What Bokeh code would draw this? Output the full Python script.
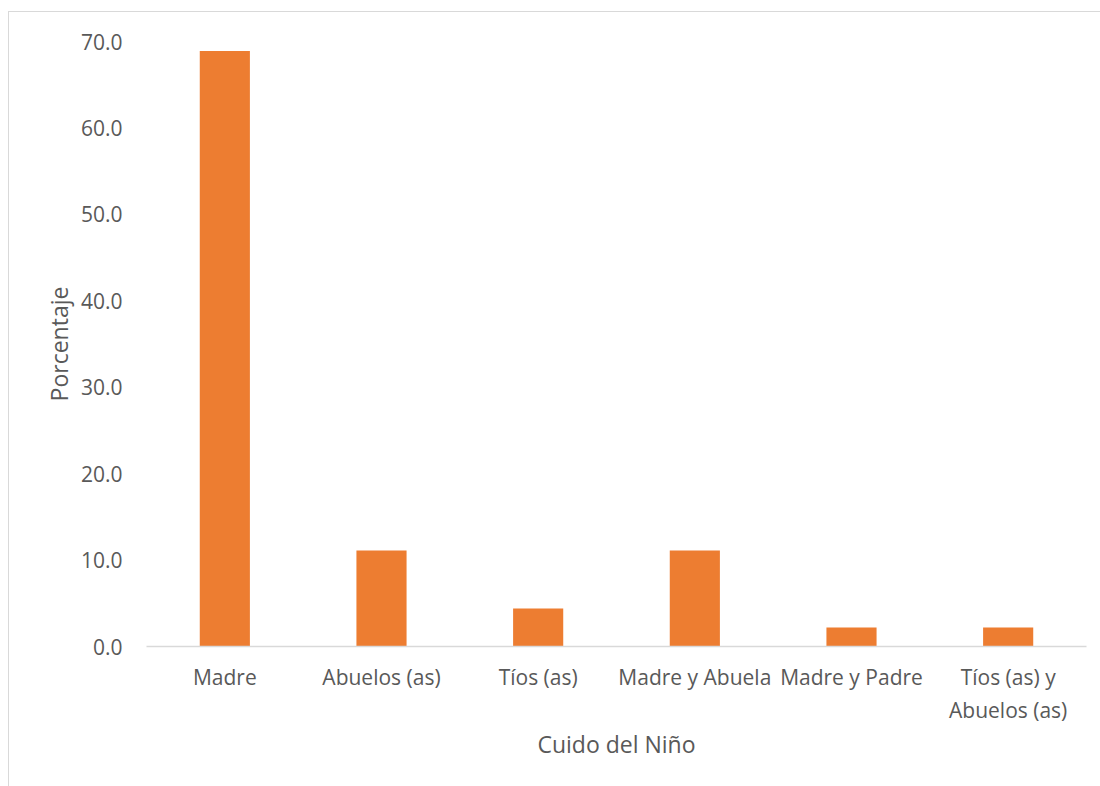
from bokeh.plotting import figure
from bokeh.models import Range1d, FactorRange, FixedTicker, NumeralTickFormatter, ColumnDataSource
from bokeh.embed import file_html
from bokeh.resources import INLINE

categories = ["Madre", "Abuelos (as)", "Tíos (as)", "Madre y Abuela", "Madre y Padre", "Tíos (as) y\nAbuelos (as)"]
porcentaje = [68.9, 11.1, 4.4, 11.1, 2.2, 2.2]
y_ticks = [0, 10, 20, 30, 40, 50, 60, 70]

FONT = "Open Sans"
TXT = "#595959"

src = ColumnDataSource(dict(cat=categories, val=porcentaje))

p = figure(width=1092, height=775, x_range=FactorRange(*categories), y_range=Range1d(0, 70),
           output_backend="svg", toolbar_location=None,
           min_border_left=137, min_border_right=15, min_border_top=29, min_border_bottom=141)
p.margin = (11, 0, 0, 8)
p.styles = {"border-left": "1.5px solid #d9d9d9", "border-top": "1.5px solid #d9d9d9"}
p.outline_line_color = None
p.grid.grid_line_color = None
p.x_range.range_padding = 0
p.x_range.group_padding = 0
p.x_range.factor_padding = 0

p.vbar(x="cat", top="val", width=0.32, source=src, color="#ED7D31", line_color=None)

ya = p.yaxis[0]
ya.ticker = FixedTicker(ticks=y_ticks)
ya.formatter = NumeralTickFormatter(format="0.0")
ya.axis_line_color = None
ya.major_tick_line_color = None
ya.minor_tick_line_color = None
ya.major_label_standoff = 18
ya.major_label_text_font = FONT
ya.major_label_text_font_size = "21px"
ya.major_label_text_color = TXT
ya.axis_label = "Porcentaje"
ya.axis_label_text_font = FONT
ya.axis_label_text_font_size = "23px"
ya.axis_label_text_font_style = "normal"
ya.axis_label_text_color = TXT
ya.axis_label_standoff = 3

xa = p.xaxis[0]
xa.axis_line_color = "#d9d9d9"
xa.axis_line_width = 1.5
xa.major_tick_line_color = None
xa.minor_tick_line_color = None
xa.major_label_standoff = 10
xa.major_label_text_font = FONT
xa.major_label_text_font_size = "21px"
xa.major_label_text_color = TXT
xa.axis_label = "Cuido del Niño"
xa.axis_label_text_font = FONT
xa.axis_label_text_font_size = "23px"
xa.axis_label_text_font_style = "normal"
xa.axis_label_text_color = TXT
xa.axis_label_standoff = 1

open("out.html", "w").write(file_html(p, INLINE))
